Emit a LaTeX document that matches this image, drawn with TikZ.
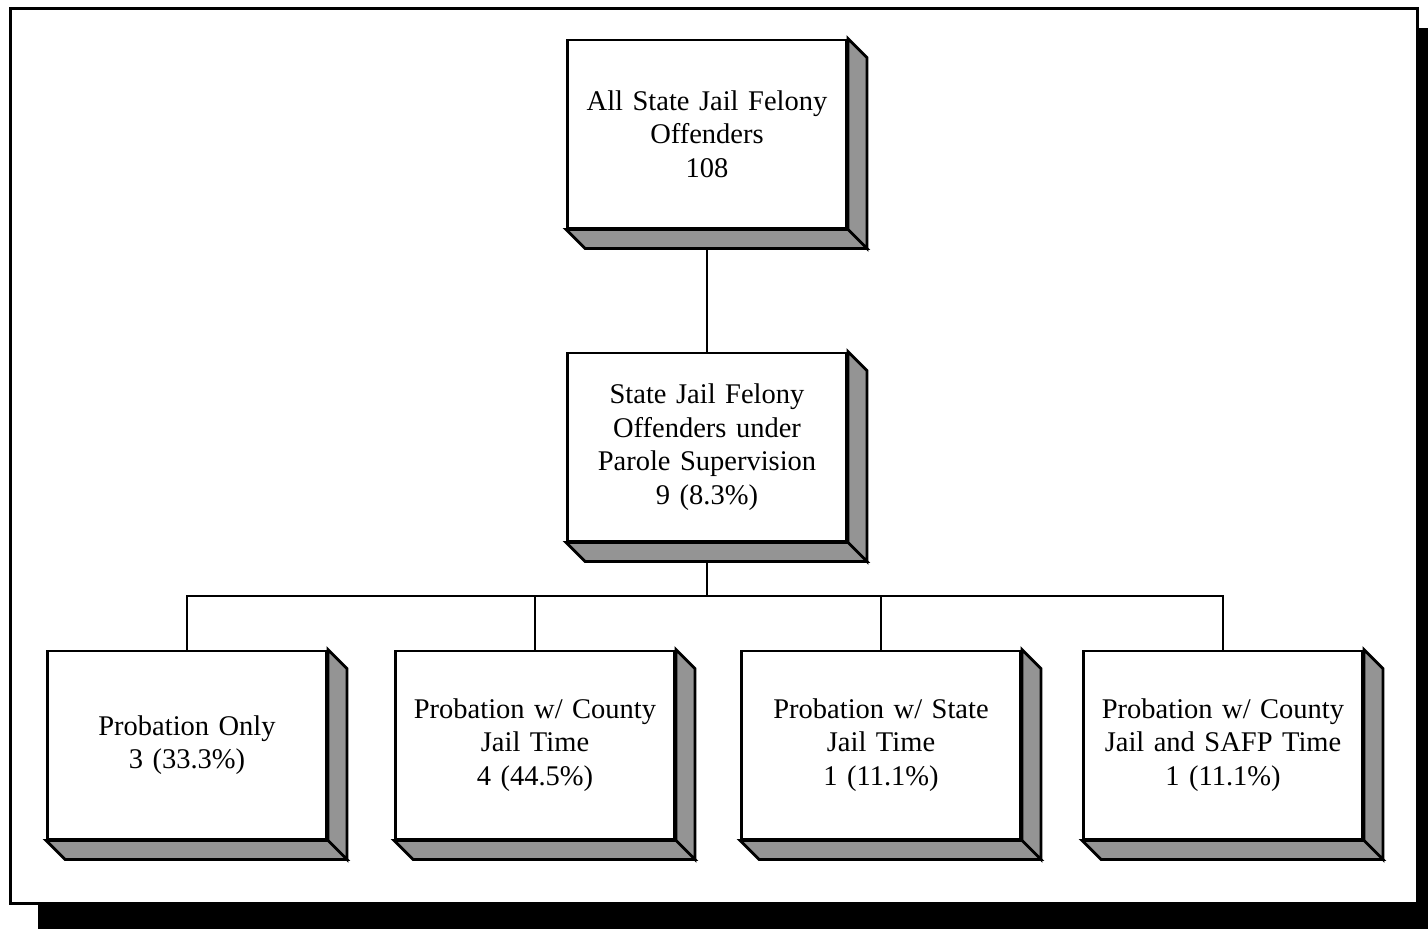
\documentclass[tikz,border=0pt]{standalone}
\usepackage{fontspec}
\setmainfont{Liberation Serif}[WordSpace=0.6]
\usetikzlibrary{calc}
\begin{document}
\begin{tikzpicture}[x=1pt,y=-1pt,
  facebox/.style={draw=black, line width=2.8pt, fill=white, minimum width=279pt, minimum height=188pt,
    inner sep=0pt, align=center, text width=272pt, font=\fontsize{28.5}{33.5}\selectfont},
  sidefill/.style={draw=black, line width=2.8pt, line join=miter, fill=black!42},
  conn/.style={draw=black, line width=2.5pt},
  frame/.style={draw=black, line width=3pt},
  shadowfill/.style={fill=black}]
\useasboundingbox (0,0) rectangle (1428,929);
% frame and shadow
\fill[shadowfill] (1417,28) rectangle (1428,929);
\fill[shadowfill] (38,903) rectangle (1428,929);
\draw[frame, fill=white] (10,8) rectangle (1417,903);
% boxes
\node[facebox] (top) at (707,134) {All State Jail Felony\\Offenders\\108};
\node[facebox] (mid) at (707,447) {State Jail Felony\\Offenders under\\Parole Supervision\\9 (8.3\%)};
\node[facebox] (b1) at (187,745) {Probation Only\\3 (33.3\%)};
\node[facebox] (b2) at (535,745) {Probation w/ County\\Jail Time\\4 (44.5\%)};
\node[facebox] (b3) at (881,745) {Probation w/ State\\Jail Time\\1 (11.1\%)};
\node[facebox] (b4) at (1223,745) {Probation w/ County\\Jail and SAFP Time\\1 (11.1\%)};
% connectors
\coordinate (bus) at (707,596);
\draw[conn] (top.south) -- (mid.north);
\draw[conn] (mid.south) -- (bus);
\draw[conn] (b1.north) |- (bus);
\draw[conn] (b4.north) |- (bus);
\draw[conn] (b2.north) -- (b2.north |- bus);
\draw[conn] (b3.north) -- (b3.north |- bus);
% extrusions
\foreach \n in {top,mid,b1,b2,b3,b4}{
  \draw[sidefill] (\n.north east) -- ++(19,19) -- ($(\n.south east)+(19,19)$) -- (\n.south east) -- cycle;
  \draw[sidefill] (\n.south west) -- ++(19,19) -- ($(\n.south east)+(19,19)$) -- (\n.south east) -- cycle;
}
\end{tikzpicture}
\end{document}
